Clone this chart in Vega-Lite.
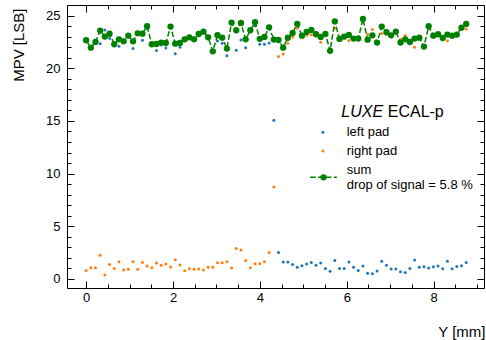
{
  "$schema": "https://vega.github.io/schema/vega-lite/v6.json",
  "width": 417,
  "height": 283,
  "autosize": {"type": "none"},
  "padding": {"left": 67, "top": 5, "right": 2, "bottom": 52},
  "config": {
    "view": {"stroke": "black", "strokeWidth": 1},
    "font": "Liberation Sans"
  },
  "data": {
    "values": [
      {"x": 0, "left pad": 22.6, "right pad": 0.81, "sum": 22.66},
      {"x": 0.108, "left pad": 22.1, "right pad": 1.07, "sum": 21.96},
      {"x": 0.216, "left pad": 22.4, "right pad": 1.07, "sum": 22.5},
      {"x": 0.324, "left pad": 22.34, "right pad": 2.24, "sum": 23.58},
      {"x": 0.432, "left pad": 23.64, "right pad": 0.37, "sum": 23.01},
      {"x": 0.54, "left pad": 22.85, "right pad": 1.38, "sum": 23.29},
      {"x": 0.648, "left pad": 22.3, "right pad": 1.0, "sum": 22.28},
      {"x": 0.756, "left pad": 22.09, "right pad": 1.64, "sum": 22.75},
      {"x": 0.864, "left pad": 22.5, "right pad": 0.84, "sum": 22.56},
      {"x": 0.972, "left pad": 23.0, "right pad": 0.91, "sum": 23.1},
      {"x": 1.08, "left pad": 21.87, "right pad": 1.64, "sum": 22.56},
      {"x": 1.188, "left pad": 23.2, "right pad": 0.91, "sum": 23.32},
      {"x": 1.296, "left pad": 22.66, "right pad": 1.57, "sum": 23.29},
      {"x": 1.404, "left pad": 23.8, "right pad": 1.23, "sum": 23.99},
      {"x": 1.512, "left pad": 22.3, "right pad": 1.07, "sum": 22.28},
      {"x": 1.62, "left pad": 21.68, "right pad": 1.51, "sum": 22.31},
      {"x": 1.728, "left pad": 22.22, "right pad": 1.29, "sum": 22.44},
      {"x": 1.836, "left pad": 21.93, "right pad": 1.41, "sum": 22.4},
      {"x": 1.944, "left pad": 23.9, "right pad": 1.13, "sum": 23.96},
      {"x": 2.052, "left pad": 21.39, "right pad": 1.83, "sum": 22.34},
      {"x": 2.16, "left pad": 21.99, "right pad": 1.32, "sum": 22.4},
      {"x": 2.269, "left pad": 22.88, "right pad": 0.78, "sum": 22.75},
      {"x": 2.377, "left pad": 22.9, "right pad": 0.97, "sum": 22.94},
      {"x": 2.485, "left pad": 22.7, "right pad": 0.91, "sum": 22.75},
      {"x": 2.593, "left pad": 23.2, "right pad": 0.94, "sum": 23.26},
      {"x": 2.701, "left pad": 23.4, "right pad": 0.84, "sum": 23.48},
      {"x": 2.809, "left pad": 22.9, "right pad": 1.1, "sum": 22.94},
      {"x": 2.917, "left pad": 21.52, "right pad": 1.1, "sum": 21.61},
      {"x": 3.025, "left pad": 22.6, "right pad": 1.54, "sum": 23.14},
      {"x": 3.133, "left pad": 22.38, "right pad": 1.54, "sum": 22.91},
      {"x": 3.241, "left pad": 21.2, "right pad": 1.64, "sum": 21.87},
      {"x": 3.349, "left pad": 24.2, "right pad": 1.04, "sum": 24.34},
      {"x": 3.457, "left pad": 21.71, "right pad": 2.9, "sum": 23.61},
      {"x": 3.565, "left pad": 22.69, "right pad": 2.74, "sum": 24.3},
      {"x": 3.673, "left pad": 21.96, "right pad": 1.76, "sum": 22.75},
      {"x": 3.781, "left pad": 23.5, "right pad": 1.07, "sum": 23.61},
      {"x": 3.889, "left pad": 24.05, "right pad": 1.45, "sum": 24.37},
      {"x": 3.997, "left pad": 22.28, "right pad": 1.45, "sum": 22.8},
      {"x": 4.105, "left pad": 22.28, "right pad": 1.64, "sum": 22.98},
      {"x": 4.213, "left pad": 22.41, "right pad": 2.52, "sum": 23.89},
      {"x": 4.321, "left pad": 15.06, "right pad": 8.73, "sum": 22.73},
      {"x": 4.429, "left pad": 2.52, "right pad": 21.11, "sum": 22.69},
      {"x": 4.537, "left pad": 1.6, "right pad": 21.36, "sum": 21.96},
      {"x": 4.645, "left pad": 1.6, "right pad": 22.37, "sum": 22.9},
      {"x": 4.753, "left pad": 1.38, "right pad": 22.97, "sum": 23.35},
      {"x": 4.861, "left pad": 1.1, "right pad": 23.8, "sum": 24.21},
      {"x": 4.969, "left pad": 1.26, "right pad": 22.91, "sum": 23.1},
      {"x": 5.077, "left pad": 1.41, "right pad": 23.13, "sum": 23.45},
      {"x": 5.185, "left pad": 1.57, "right pad": 23.18, "sum": 23.64},
      {"x": 5.293, "left pad": 1.29, "right pad": 23.1, "sum": 23.23},
      {"x": 5.401, "left pad": 1.51, "right pad": 22.47, "sum": 22.98},
      {"x": 5.509, "left pad": 1.0, "right pad": 23.1, "sum": 23.26},
      {"x": 5.617, "left pad": 0.72, "right pad": 21.6, "sum": 21.66},
      {"x": 5.725, "left pad": 1.76, "right pad": 23.8, "sum": 24.45},
      {"x": 5.833, "left pad": 1.0, "right pad": 22.7, "sum": 22.79},
      {"x": 5.941, "left pad": 1.0, "right pad": 22.9, "sum": 23.01},
      {"x": 6.049, "left pad": 1.6, "right pad": 22.63, "sum": 23.17},
      {"x": 6.157, "left pad": 1.1, "right pad": 22.8, "sum": 22.82},
      {"x": 6.265, "left pad": 0.81, "right pad": 22.9, "sum": 22.82},
      {"x": 6.373, "left pad": 1.23, "right pad": 24.4, "sum": 24.69},
      {"x": 6.481, "left pad": 0.53, "right pad": 23.23, "sum": 22.72},
      {"x": 6.59, "left pad": 0.5, "right pad": 23.68, "sum": 23.13},
      {"x": 6.698, "left pad": 0.75, "right pad": 22.6, "sum": 22.44},
      {"x": 6.806, "left pad": 1.67, "right pad": 23.3, "sum": 23.96},
      {"x": 6.914, "left pad": 1.29, "right pad": 23.25, "sum": 23.42},
      {"x": 7.022, "left pad": 0.94, "right pad": 23.0, "sum": 23.13},
      {"x": 7.13, "left pad": 0.94, "right pad": 23.3, "sum": 23.48},
      {"x": 7.238, "left pad": 0.69, "right pad": 22.75, "sum": 22.44},
      {"x": 7.346, "left pad": 0.62, "right pad": 23.12, "sum": 22.75},
      {"x": 7.454, "left pad": 1.0, "right pad": 22.4, "sum": 22.5},
      {"x": 7.562, "left pad": 1.79, "right pad": 21.99, "sum": 22.82},
      {"x": 7.67, "left pad": 1.1, "right pad": 22.8, "sum": 22.91},
      {"x": 7.778, "left pad": 1.16, "right pad": 22.0, "sum": 22.06},
      {"x": 7.886, "left pad": 1.03, "right pad": 23.8, "sum": 23.99},
      {"x": 7.994, "left pad": 1.16, "right pad": 23.0, "sum": 23.1},
      {"x": 8.102, "left pad": 1.23, "right pad": 23.1, "sum": 23.23},
      {"x": 8.21, "left pad": 0.97, "right pad": 22.8, "sum": 22.88},
      {"x": 8.318, "left pad": 1.67, "right pad": 22.62, "sum": 23.2},
      {"x": 8.426, "left pad": 0.97, "right pad": 23.0, "sum": 23.1},
      {"x": 8.534, "left pad": 1.19, "right pad": 23.1, "sum": 23.2},
      {"x": 8.642, "left pad": 1.26, "right pad": 23.7, "sum": 23.86},
      {"x": 8.75, "left pad": 1.57, "right pad": 23.74, "sum": 24.21}
    ]
  },
  "transform": [
    {"fold": ["left pad", "right pad", "sum"], "as": ["series", "mpv"]}
  ],
  "resolve": {"axis": {"x": "independent", "y": "independent"}},
  "layer": [
    {
      "transform": [{"filter": "datum.series === 'left pad'"}],
      "mark": {"type": "point", "filled": true, "size": 9, "opacity": 1, "color": "#1f77b4"},
      "encoding": {
        "x": {
          "field": "x", "type": "quantitative",
          "scale": {"domain": [-0.44, 9.16], "nice": false, "zero": false},
          "axis": {
            "orient": "bottom",
            "values": [0, 0.5, 1, 1.5, 2, 2.5, 3, 3.5, 4, 4.5, 5, 5.5, 6, 6.5, 7, 7.5, 8, 8.5, 9],
            "domain": false, "grid": false,
            "tickColor": "black", "tickWidth": 1,
            "tickSize": {"condition": {"test": "datum.value % 2 === 0", "value": -7}, "value": -4},
            "labelExpr": "datum.value % 2 === 0 ? '' + datum.value : ''",
            "labelFont": "Liberation Sans", "labelFontSize": 13, "labelColor": "black",
            "labelPadding": 10, "labelOverlap": false, "labelFlush": false,
            "title": "Y [mm]", "titleFont": "Liberation Sans", "titleFontSize": 15,
            "titleFontWeight": "normal", "titleColor": "black",
            "titleAlign": "right", "titleAnchor": "end", "titleBaseline": "alphabetic",
            "titleX": 418, "titleY": 48
          }
        },
        "y": {
          "field": "mpv", "type": "quantitative",
          "scale": {"domain": [-0.86, 26.01], "nice": false, "zero": false},
          "axis": {
            "orient": "left",
            "values": [0, 1, 2, 3, 4, 5, 6, 7, 8, 9, 10, 11, 12, 13, 14, 15, 16, 17, 18, 19, 20, 21, 22, 23, 24, 25],
            "domain": false, "grid": false,
            "tickColor": "black", "tickWidth": 1,
            "tickSize": {"condition": {"test": "datum.value % 5 === 0", "value": -7}, "value": -4},
            "labelExpr": "datum.value % 5 === 0 ? '' + datum.value : ''",
            "labelFont": "Liberation Sans", "labelFontSize": 13, "labelColor": "black",
            "labelPadding": 14, "labelOverlap": false, "labelFlush": false,
            "title": "MPV [LSB]", "titleFont": "Liberation Sans", "titleFontSize": 15,
            "titleFontWeight": "normal", "titleColor": "black",
            "titleAngle": -90, "titleAlign": "right", "titleAnchor": null, "titleBaseline": "middle",
            "titleX": -49, "titleY": 3
          }
        }
      }
    },
    {
      "transform": [{"filter": "datum.series === 'right pad'"}],
      "mark": {"type": "point", "filled": true, "size": 9, "opacity": 1, "color": "#ff7f0e"},
      "encoding": {
        "x": {
          "field": "x", "type": "quantitative",
          "axis": {
            "orient": "top",
            "values": [0, 0.5, 1, 1.5, 2, 2.5, 3, 3.5, 4, 4.5, 5, 5.5, 6, 6.5, 7, 7.5, 8, 8.5, 9],
            "domain": false, "grid": false, "labels": false, "title": null,
            "tickColor": "black", "tickWidth": 1,
            "tickSize": {"condition": {"test": "datum.value % 2 === 0", "value": -7}, "value": -4}
          }
        },
        "y": {
          "field": "mpv", "type": "quantitative",
          "axis": {
            "orient": "right",
            "values": [0, 1, 2, 3, 4, 5, 6, 7, 8, 9, 10, 11, 12, 13, 14, 15, 16, 17, 18, 19, 20, 21, 22, 23, 24, 25],
            "domain": false, "grid": false, "labels": false, "title": null,
            "tickColor": "black", "tickWidth": 1,
            "tickSize": {"condition": {"test": "datum.value % 5 === 0", "value": -7}, "value": -4}
          }
        }
      }
    },
    {
      "transform": [{"filter": "datum.series === 'sum'"}],
      "mark": {"type": "line", "color": "#008000", "strokeWidth": 1.5, "strokeDash": [5.5, 2.4]},
      "encoding": {
        "x": {"field": "x", "type": "quantitative", "axis": null},
        "y": {"field": "mpv", "type": "quantitative", "axis": null}
      }
    },
    {
      "transform": [{"filter": "datum.series === 'sum'"}],
      "mark": {"type": "point", "filled": true, "size": 40, "opacity": 1, "color": "#008000"},
      "encoding": {
        "x": {"field": "x", "type": "quantitative", "axis": null},
        "y": {"field": "mpv", "type": "quantitative", "axis": null}
      }
    },
    {
      "data": {"values": [{}]},
      "mark": {"type": "text", "text": "LUXE", "font": "Liberation Sans", "fontSize": 16, "fontStyle": "italic", "align": "left", "baseline": "alphabetic", "color": "black"},
      "encoding": {
        "x": {"datum": 5.876, "type": "quantitative", "axis": null},
        "y": {"datum": 15.4, "type": "quantitative", "axis": null}
      }
    },
    {
      "data": {"values": [{}]},
      "mark": {"type": "text", "text": "ECAL-p", "font": "Liberation Sans", "fontSize": 16, "align": "left", "baseline": "alphabetic", "color": "black"},
      "encoding": {
        "x": {"datum": 6.944, "type": "quantitative", "axis": null},
        "y": {"datum": 15.4, "type": "quantitative", "axis": null}
      }
    },
    {
      "data": {"values": [{}]},
      "mark": {"type": "point", "filled": true, "size": 9, "opacity": 1, "color": "#1f77b4"},
      "encoding": {
        "x": {"datum": 5.451, "type": "quantitative", "axis": null},
        "y": {"datum": 13.92, "type": "quantitative", "axis": null}
      }
    },
    {
      "data": {"values": [{}]},
      "mark": {"type": "point", "filled": true, "size": 9, "opacity": 1, "color": "#ff7f0e"},
      "encoding": {
        "x": {"datum": 5.451, "type": "quantitative", "axis": null},
        "y": {"datum": 12.15, "type": "quantitative", "axis": null}
      }
    },
    {
      "data": {"values": [{}]},
      "mark": {"type": "rule", "color": "#008000", "strokeWidth": 1.5, "strokeDash": [5.5, 2.4]},
      "encoding": {
        "x": {"datum": 5.159, "type": "quantitative", "axis": null},
        "x2": {"datum": 5.773},
        "y": {"datum": 9.65, "type": "quantitative", "axis": null}
      }
    },
    {
      "data": {"values": [{}]},
      "mark": {"type": "point", "filled": true, "size": 40, "opacity": 1, "color": "#008000"},
      "encoding": {
        "x": {"datum": 5.466, "type": "quantitative", "axis": null},
        "y": {"datum": 9.65, "type": "quantitative", "axis": null}
      }
    },
    {
      "data": {"values": [{}]},
      "mark": {"type": "text", "text": "left pad", "font": "Liberation Sans", "fontSize": 13, "align": "left", "baseline": "middle", "color": "black"},
      "encoding": {
        "x": {"datum": 5.999, "type": "quantitative", "axis": null},
        "y": {"datum": 13.92, "type": "quantitative", "axis": null}
      }
    },
    {
      "data": {"values": [{}]},
      "mark": {"type": "text", "text": "right pad", "font": "Liberation Sans", "fontSize": 13, "align": "left", "baseline": "middle", "color": "black"},
      "encoding": {
        "x": {"datum": 5.999, "type": "quantitative", "axis": null},
        "y": {"datum": 12.15, "type": "quantitative", "axis": null}
      }
    },
    {
      "data": {"values": [{}]},
      "mark": {"type": "text", "text": "sum", "font": "Liberation Sans", "fontSize": 13, "align": "left", "baseline": "middle", "color": "black"},
      "encoding": {
        "x": {"datum": 5.999, "type": "quantitative", "axis": null},
        "y": {"datum": 10.34, "type": "quantitative", "axis": null}
      }
    },
    {
      "data": {"values": [{}]},
      "mark": {"type": "text", "text": "drop of signal = 5.8 %", "font": "Liberation Sans", "fontSize": 13, "align": "left", "baseline": "middle", "color": "black"},
      "encoding": {
        "x": {"datum": 5.999, "type": "quantitative", "axis": null},
        "y": {"datum": 8.96, "type": "quantitative", "axis": null}
      }
    }
  ]
}
